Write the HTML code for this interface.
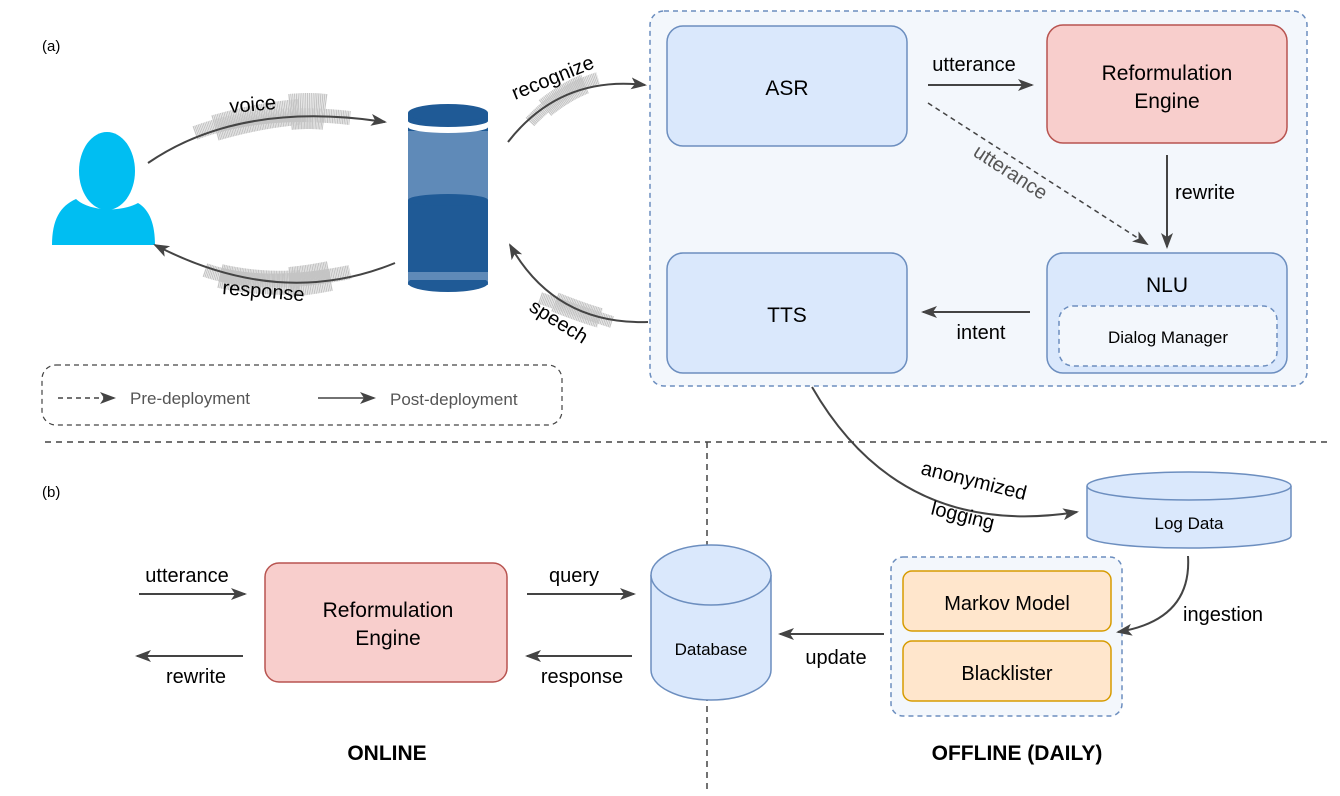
<!DOCTYPE html>
<html><head><meta charset="utf-8"><style>
html,body{margin:0;padding:0;background:#fff;}
svg{display:block;font-family:"Liberation Sans",Arial,sans-serif;}
</style></head><body>
<svg width="1340" height="796" viewBox="0 0 1340 796" xmlns="http://www.w3.org/2000/svg">
<defs>
<marker id="ah" markerWidth="16" markerHeight="12" refX="14" refY="6" orient="auto" markerUnits="userSpaceOnUse">
<path d="M0,0 L16,6 L0,12 L4,6 Z" fill="#444"/></marker>
</defs>
<text x="42" y="51" font-size="15" fill="#000">(a)</text>
<text x="42" y="497" font-size="15" fill="#000">(b)</text>

<!-- person -->
<ellipse cx="107" cy="171" rx="28" ry="39" fill="#00bef2"/>
<path d="M52,245 C52,220 60,206 76,199 C90,212 122,212 138,203 C150,210 155,225 155,245 Z" fill="#00bef2"/>

<!-- speaker -->
<rect x="408" y="113" width="80" height="172" fill="#5f8ab8"/>
<ellipse cx="448" cy="283" rx="40" ry="9" fill="#1f5a96"/>
<rect x="408" y="200" width="80" height="72" fill="#1f5a96"/>
<ellipse cx="448" cy="200" rx="40" ry="6" fill="#1f5a96"/>
<rect x="408" y="272" width="80" height="8" fill="#5f8ab8"/>
<rect x="408" y="113" width="80" height="18" fill="#1f5a96"/>
<ellipse cx="448" cy="113" rx="40" ry="9" fill="#1f5a96"/>
<path d="M408,121 A40,6 0 0 0 488,121 L488,127 A40,6 0 0 1 408,127 Z" fill="#fff"/>
<path d="M408,131 A40,6 0 0 0 488,131 L488,137 L408,137 Z" fill="#5f8ab8"/>

<!-- waveforms -->
<g fill="none" stroke="#c4c4c4" stroke-dasharray="1.2,0.5">
<path d="M195,133 Q262,108 350,118" stroke-width="14"/>
<path d="M215,128 Q260,115 300,112" stroke-width="26"/>
<path d="M290,112 Q310,110 325,112" stroke-width="36"/>
<path d="M205,270 Q262,290 350,272" stroke-width="14"/>
<path d="M220,276 Q260,285 300,282" stroke-width="24"/>
<path d="M290,282 Q310,280 330,276" stroke-width="30"/>
<path d="M530,122 Q560,90 598,78" stroke-width="12"/>
<path d="M545,108 Q565,92 585,84" stroke-width="20"/>
<path d="M540,298 Q575,310 612,322" stroke-width="12"/>
<path d="M555,302 Q580,312 600,318" stroke-width="20"/>
</g>

<!-- curved arrows (a) -->
<g fill="none" stroke="#444" stroke-width="2">
<path d="M148,163 Q240,100 385,122" marker-end="url(#ah)"/>
<path d="M395,263 Q280,310 155,245" marker-end="url(#ah)"/>
<path d="M508,142 Q560,75 645,85" marker-end="url(#ah)"/>
<path d="M648,322 Q555,325 510,245" marker-end="url(#ah)"/>
</g>
<text font-size="20" fill="#000" transform="translate(230,113) rotate(-5)">voice</text>
<text font-size="20" fill="#000" transform="translate(222,294) rotate(5)">response</text>
<text font-size="20" fill="#000" transform="translate(515,100) rotate(-22)">recognize</text>
<text font-size="20" fill="#000" transform="translate(528,310) rotate(32)">speech</text>

<!-- outer dashed box -->
<rect x="650" y="11" width="657" height="375" rx="14" fill="#f3f7fc" stroke="#6c8ebf" stroke-width="1.5" stroke-dasharray="5,4"/>
<rect x="667" y="26" width="240" height="120" rx="16" fill="#dae8fc" stroke="#6c8ebf" stroke-width="1.5"/>
<text x="787" y="95" font-size="21" text-anchor="middle">ASR</text>
<rect x="1047" y="25" width="240" height="118" rx="16" fill="#f8cecc" stroke="#b85450" stroke-width="1.5"/>
<text x="1167" y="80" font-size="21" text-anchor="middle">Reformulation</text>
<text x="1167" y="108" font-size="21" text-anchor="middle">Engine</text>
<rect x="667" y="253" width="240" height="120" rx="16" fill="#dae8fc" stroke="#6c8ebf" stroke-width="1.5"/>
<text x="787" y="322" font-size="21" text-anchor="middle">TTS</text>
<rect x="1047" y="253" width="240" height="120" rx="16" fill="#dae8fc" stroke="#6c8ebf" stroke-width="1.5"/>
<text x="1167" y="292" font-size="21" text-anchor="middle">NLU</text>
<rect x="1059" y="306" width="218" height="60" rx="14" fill="#f3f7fc" stroke="#6c8ebf" stroke-width="1.5" stroke-dasharray="5,4"/>
<text x="1168" y="343" font-size="17" text-anchor="middle">Dialog Manager</text>

<g stroke="#444" stroke-width="2" fill="none">
<line x1="928" y1="85" x2="1032" y2="85" marker-end="url(#ah)"/>
<line x1="1167" y1="155" x2="1167" y2="247" marker-end="url(#ah)"/>
<line x1="1030" y1="312" x2="923" y2="312" marker-end="url(#ah)"/>
<line x1="928" y1="103" x2="1147" y2="244" stroke-dasharray="5,4" stroke-width="1.5" marker-end="url(#ah)"/>
</g>
<text x="974" y="71" font-size="20" text-anchor="middle">utterance</text>
<text x="1175" y="199" font-size="20">rewrite</text>
<text x="981" y="339" font-size="20" text-anchor="middle">intent</text>
<text font-size="20" fill="#555" transform="translate(972,155) rotate(33)">utterance</text>

<!-- legend -->
<rect x="42" y="365" width="520" height="60" rx="14" fill="#fff" stroke="#444" stroke-width="1.2" stroke-dasharray="5,4"/>
<line x1="58" y1="398" x2="114" y2="398" stroke="#444" stroke-width="1.5" stroke-dasharray="5,4" marker-end="url(#ah)"/>
<text x="130" y="404" font-size="17" fill="#555">Pre-deployment</text>
<line x1="318" y1="398" x2="374" y2="398" stroke="#444" stroke-width="1.5" marker-end="url(#ah)"/>
<text x="390" y="405" font-size="17" fill="#555">Post-deployment</text>

<!-- separators -->
<line x1="45" y1="442" x2="1330" y2="442" stroke="#444" stroke-width="1.5" stroke-dasharray="6,5"/>
<line x1="707" y1="442" x2="707" y2="790" stroke="#444" stroke-width="1.5" stroke-dasharray="6,5"/>

<!-- anonymized logging -->
<path d="M812,387 Q900,540 1077,512" fill="none" stroke="#444" stroke-width="2" marker-end="url(#ah)"/>
<text font-size="20" transform="translate(920,474) rotate(14)">anonymized</text>
<text font-size="20" transform="translate(930,514) rotate(14)">logging</text>

<!-- Log Data -->
<path d="M1087,486 L1087,536 A102,12 0 0 0 1291,536 L1291,486" fill="#dae8fc" stroke="#6c8ebf" stroke-width="1.5"/>
<ellipse cx="1189" cy="486" rx="102" ry="14" fill="#dae8fc" stroke="#6c8ebf" stroke-width="1.5"/>
<text x="1189" y="529" font-size="17" text-anchor="middle">Log Data</text>

<!-- offline group -->
<rect x="891" y="557" width="231" height="159" rx="12" fill="#f3f7fc" stroke="#6c8ebf" stroke-width="1.5" stroke-dasharray="5,4"/>
<rect x="903" y="571" width="208" height="60" rx="9" fill="#ffe6cc" stroke="#d79b00" stroke-width="1.5"/>
<text x="1007" y="610" font-size="20" text-anchor="middle">Markov Model</text>
<rect x="903" y="641" width="208" height="60" rx="9" fill="#ffe6cc" stroke="#d79b00" stroke-width="1.5"/>
<text x="1007" y="680" font-size="20" text-anchor="middle">Blacklister</text>

<path d="M1188,556 Q1192,620 1118,632" fill="none" stroke="#444" stroke-width="2" marker-end="url(#ah)"/>
<text x="1183" y="621" font-size="20">ingestion</text>

<!-- Database -->
<path d="M651,575 L651,670 A60,30 0 0 0 771,670 L771,575" fill="#dae8fc" stroke="#6c8ebf" stroke-width="1.5"/>
<ellipse cx="711" cy="575" rx="60" ry="30" fill="#dae8fc" stroke="#6c8ebf" stroke-width="1.5"/>
<text x="711" y="655" font-size="17" text-anchor="middle">Database</text>

<line x1="884" y1="634" x2="780" y2="634" stroke="#444" stroke-width="2" marker-end="url(#ah)"/>
<text x="836" y="664" font-size="20" text-anchor="middle">update</text>

<!-- online -->
<rect x="265" y="563" width="242" height="119" rx="14" fill="#f8cecc" stroke="#b85450" stroke-width="1.5"/>
<text x="388" y="617" font-size="21" text-anchor="middle">Reformulation</text>
<text x="388" y="645" font-size="21" text-anchor="middle">Engine</text>
<g stroke="#444" stroke-width="2">
<line x1="139" y1="594" x2="245" y2="594" marker-end="url(#ah)"/>
<line x1="243" y1="656" x2="137" y2="656" marker-end="url(#ah)"/>
<line x1="527" y1="594" x2="634" y2="594" marker-end="url(#ah)"/>
<line x1="632" y1="656" x2="527" y2="656" marker-end="url(#ah)"/>
</g>
<text x="187" y="582" font-size="20" text-anchor="middle">utterance</text>
<text x="196" y="683" font-size="20" text-anchor="middle">rewrite</text>
<text x="574" y="582" font-size="20" text-anchor="middle">query</text>
<text x="582" y="683" font-size="20" text-anchor="middle">response</text>

<text x="387" y="760" font-size="21" font-weight="bold" text-anchor="middle">ONLINE</text>
<text x="1017" y="760" font-size="21" font-weight="bold" text-anchor="middle">OFFLINE (DAILY)</text>
</svg>
</body></html>
